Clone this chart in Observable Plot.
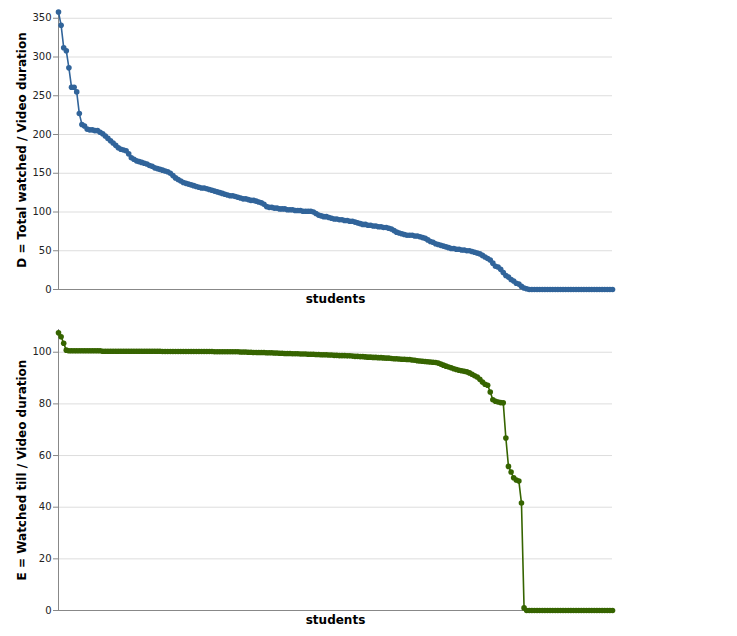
<!DOCTYPE html>
<html>
<head>
<meta charset="utf-8">
<script src="https://cdn.jsdelivr.net/npm/d3@7"></script>
<script src="https://cdn.jsdelivr.net/npm/@observablehq/plot@0.6"></script>
<style>
  html, body { margin: 0; padding: 0; background: #fff; }
  #chart svg { display: block; }
</style>
</head>
<body>
<div id="chart"></div>
<script>
// Series D = Total watched / Video duration (sorted descending, one value per student)
const seriesD = [
  358, 341, 312, 308, 286, 261, 261, 255, 227, 213, 211,
  207, 206, 206, 205, 205, 203, 201, 198, 195, 192,
  189, 186, 183, 181, 180, 179, 175, 170, 168, 166,
  165, 164, 163, 162, 160, 159, 157, 156, 155, 154,
  153, 152, 150, 147, 144, 142, 140, 138, 137, 136,
  135, 134, 133, 132, 131, 131, 130, 129, 128, 127,
  126, 125, 124, 123, 122, 121, 121, 120, 119, 118,
  117, 117, 116, 115, 115, 114, 113, 112, 110, 107,
  106, 106, 105, 105, 104, 104, 104, 103, 103, 103,
  102, 102, 102, 101, 101, 101, 101, 100, 98, 96,
  95, 94, 94, 93, 92, 91, 91, 90, 90, 89,
  89, 88, 88, 87, 86, 85, 84, 84, 83, 83,
  82, 82, 81, 81, 80, 80, 79, 78, 76, 74,
  73, 72, 71, 70, 70, 70, 69, 69, 68, 67,
  66, 64, 62, 61, 59, 58, 57, 56, 55, 54,
  53, 53, 52, 52, 51, 51, 50, 50, 49, 48,
  47, 46, 44, 42, 40, 38, 34, 30, 29, 26,
  22, 18, 16, 13, 11, 8, 7, 4, 2, 1,
  0, 0, 0, 0, 0, 0, 0, 0, 0, 0,
  0, 0, 0, 0, 0, 0, 0, 0, 0, 0,
  0, 0, 0, 0, 0, 0, 0, 0, 0, 0,
  0, 0, 0
];

// Series E = Watched till / Video duration (sorted descending, one value per student)
const seriesE = [
  107.5, 106, 103.5, 100.8, 100.6, 100.6, 100.6, 100.6, 100.6, 100.6,
  100.6, 100.6, 100.6, 100.6, 100.6, 100.6, 100.6, 100.4, 100.4, 100.4,
  100.4, 100.4, 100.4, 100.4, 100.4, 100.4, 100.4, 100.4, 100.4, 100.4,
  100.4, 100.4, 100.4, 100.4, 100.4, 100.4, 100.4, 100.4, 100.4, 100.4,
  100.3, 100.3, 100.3, 100.3, 100.3, 100.3, 100.3, 100.3, 100.3, 100.3,
  100.3, 100.3, 100.3, 100.3, 100.3, 100.3, 100.3, 100.3, 100.3, 100.3,
  100.2, 100.2, 100.2, 100.2, 100.2, 100.2, 100.2, 100.2, 100.2, 100.2,
  100.1, 100.1, 100.1, 100.0, 100.0, 99.9, 99.9, 99.9, 99.9, 99.9,
  99.8, 99.8, 99.8, 99.7, 99.7, 99.6, 99.6, 99.5, 99.5, 99.5,
  99.4, 99.4, 99.4, 99.3, 99.3, 99.3, 99.2, 99.2, 99.2, 99.1,
  99.1, 99.0, 99.0, 99.0, 98.9, 98.9, 98.8, 98.8, 98.7, 98.7,
  98.7, 98.6, 98.6, 98.5, 98.4, 98.4, 98.3, 98.3, 98.2, 98.1,
  98.1, 98.0, 98.0, 97.9, 97.9, 97.8, 97.7, 97.7, 97.6, 97.5,
  97.5, 97.4, 97.3, 97.3, 97.2, 97.2, 97.0, 96.9, 96.7, 96.6,
  96.5, 96.4, 96.3, 96.2, 96.1, 96.0, 95.8, 95.4, 95.0, 94.6,
  94.3, 94.0, 93.6, 93.3, 93.0, 92.8, 92.6, 92.4, 92.0, 91.5,
  90.9, 90.4, 89.5, 88.5, 87.6, 87.2, 84.6, 81.6, 81.0, 80.7,
  80.5, 80.4, 66.8, 55.8, 53.6, 51.4, 50.5, 50.1, 41.6, 1.0,
  0, 0, 0, 0, 0, 0, 0, 0, 0, 0,
  0, 0, 0, 0, 0, 0, 0, 0, 0, 0,
  0, 0, 0, 0, 0, 0, 0, 0, 0, 0,
  0, 0, 0, 0
];

const ticksD = [0, 50, 100, 150, 200, 250, 300, 350];
const ticksE = [0, 20, 40, 60, 80, 100];
const titleD = "D = Total watched / Video duration";
const titleE = "E = Watched till / Video duration";
const xTitle = "students";
const colorD = "#31649a";
const colorE = "#366400";

function panel(values, ticks, yMax, yTitle, color, height, marginTop, marginBottom) {
  const data = values.map((v, i) => ({student: i, value: v}));
  return Plot.plot({
    width: 737,
    height,
    marginLeft: 58,
    marginRight: 125,
    marginTop,
    marginBottom,
    style: {fontFamily: "DejaVu Sans, Verdana, sans-serif", fontSize: "10px", background: "#fff"},
    x: {domain: [0, values.length - 1], axis: null},
    y: {domain: [0, yMax], axis: null},
    marks: [
      Plot.gridY(ticks, {stroke: "#dddddd", strokeOpacity: 1}),
      Plot.ruleX([0], {stroke: "#888", strokeWidth: 1}),
      Plot.ruleY([0], {stroke: "#888", strokeWidth: 1}),
      Plot.axisY(ticks, {tickSize: 5, tickPadding: 2, stroke: "#888", fill: "#222", label: null}),
      Plot.line(data, {x: "student", y: "value", stroke: color, strokeWidth: 1.6}),
      Plot.dot(data, {x: "student", y: "value", fill: color, r: 2.8}),
      Plot.text([yTitle], {text: d => d, frameAnchor: "left", dx: -36, rotate: -90,
        fontWeight: "bold", fontSize: 12, fill: "#000", textAnchor: "middle"}),
      Plot.text([xTitle], {text: d => d, frameAnchor: "bottom", dy: 10, lineAnchor: "middle",
        fontWeight: "bold", fontSize: 12, fill: "#000"})
    ]
  });
}

const chart = document.getElementById("chart");
chart.appendChild(panel(seriesD, ticksD, 360, titleD, colorD, 320, 10, 31));
chart.appendChild(panel(seriesE, ticksE, 108.8, titleE, colorE, 316, 9, 26));
</script>
</body>
</html>
